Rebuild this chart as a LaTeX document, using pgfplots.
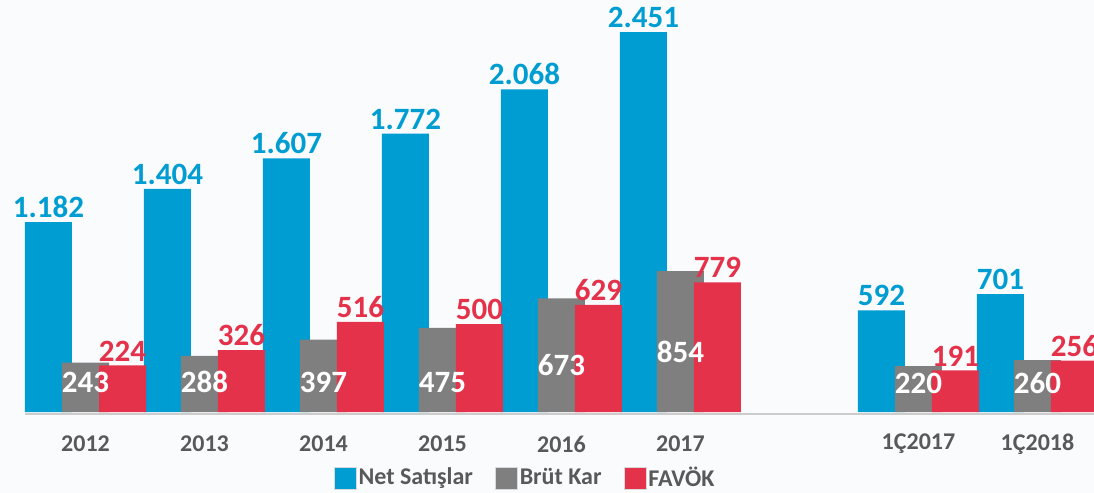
\documentclass[border=0pt]{standalone}
\usepackage{fontspec}
\setmainfont{Carlito}
\usepackage{pgfplots}
\pgfplotsset{compat=1.18}
\definecolor{cblue}{RGB}{0,157,210}
\definecolor{cgray}{RGB}{127,127,127}
\definecolor{cred}{RGB}{228,50,74}
\definecolor{ctxt}{RGB}{89,89,89}
\definecolor{bg}{RGB}{250,251,253}
\pgfplotsset{
  sq legend/.style={legend image code/.code={\draw[##1, draw=gray!30] (0pt,-5.5pt) rectangle (11pt,5.5pt);}},
}
\tikzset{barlbl/.style={font=\fontsize{15.5}{18}\selectfont\bfseries, inner sep=1pt, yshift=1pt}}
\begin{document}
\begin{tikzpicture}
\path[use as bounding box, fill=bg] (0pt,-40.5pt) rectangle (547pt,206pt);
\begin{axis}[
  at={(0pt,0pt)}, anchor=south west,
  scale only axis, width=547pt, height=206pt,
  xmin=-0.7185, xmax=8.475, ymin=0, ymax=2752,
  axis line style={draw=none}, major tick length=0pt,
  ytick=\empty,
  xtick={0,1,2,3,4,5,7,8},
  xticklabels={2012,2013,2014,2015,2016,2017,1Ç2017,1Ç2018},
  xticklabel style={anchor=center, yshift=-16pt, font=\fontsize{12}{14}\selectfont\bfseries, text=ctxt},
  clip=false,
  legend style={at={(0.48,-0.16)}, anchor=center, draw=none, fill=none,
    legend columns=3, font=\fontsize{12}{14}\selectfont\bfseries, text=ctxt,
    /tikz/every even column/.append style={column sep=10pt},
    nodes={inner sep=1pt}},
]
\draw[gray!40, line width=0.9pt] (axis cs:-0.508,-12) -- (axis cs:8.6,-12);

\addplot[ybar, bar width=23.5pt, bar shift=-18.5pt, fill=cblue, draw=none,
  y filter/.expression={y+86.8}, sq legend,
  nodes near coords, point meta=explicit symbolic,
  every node near coord/.append style={barlbl, text=cblue, xshift=-18.5pt}]
  coordinates {(0,1182)[1.182] (1,1404)[1.404] (2,1607)[1.607] (3,1772)[1.772]
               (4,2068)[2.068] (5,2451)[2.451] (7,592)[592] (8,701)[701]};
\addlegendentry{Net Satışlar}

\addplot[ybar, bar width=23.5pt, bar shift=0pt, fill=cgray, draw=none,
  y filter/.expression={y+86.8}, sq legend]
  coordinates {(0,243) (1,288) (2,397) (3,475) (4,673) (5,854) (7,220) (8,260)};
\addlegendentry{Brüt Kar}

\addplot[ybar, bar width=23.5pt, bar shift=18.5pt, fill=cred, draw=none,
  y filter/.expression={y+86.8}, sq legend,
  nodes near coords, point meta=explicit symbolic,
  every node near coord/.append style={barlbl, text=cred, xshift=18.5pt}]
  coordinates {(0,224)[224] (1,326)[326] (2,516)[516] (3,500)[500]
               (4,629)[629] (5,779)[779] (7,191)[191] (8,256)[256]};
\addlegendentry{FAVÖK}

% white labels inside the grey bars
\addplot[forget plot, draw=none, mark=none,
  nodes near coords, point meta=explicit symbolic,
  every node near coord/.append style={font=\fontsize{15.5}{18}\selectfont\bfseries, text=white, anchor=center, inner sep=0pt}]
  coordinates {(0,200)[243] (1,200)[288] (2,200)[397] (3,194)[475]
               (4,314)[673] (5,401)[854] (7,194)[220] (8,194)[260]};
\end{axis}
\end{tikzpicture}
\end{document}
